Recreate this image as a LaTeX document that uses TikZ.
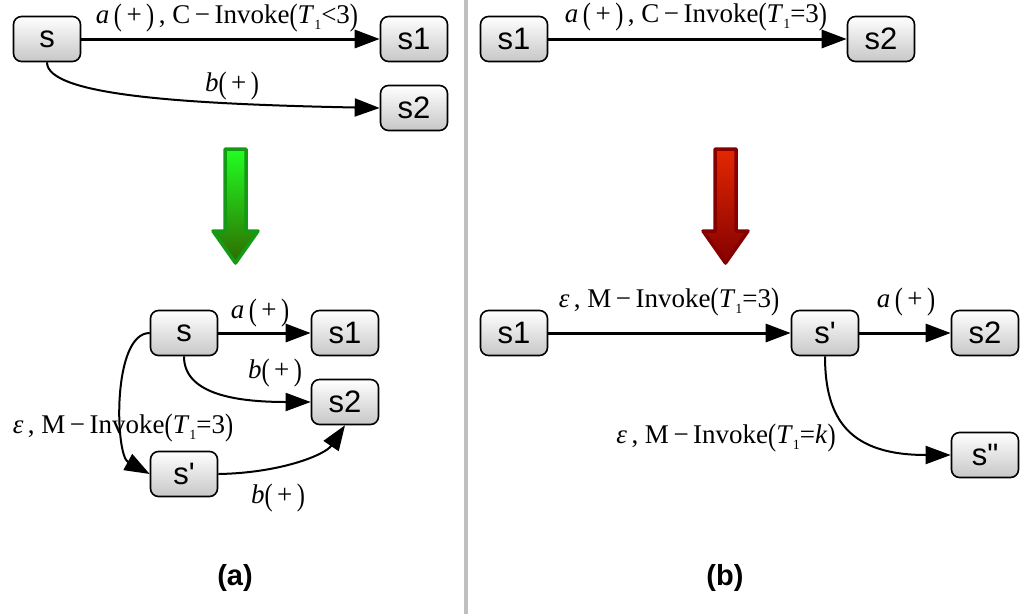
\documentclass[tikz,border=0pt]{standalone}
\usepackage{fontspec}
\usepackage{graphicx}
\setmainfont{Liberation Serif}
\setsansfont{Liberation Sans}[Ligatures=TeXOff]
\usetikzlibrary{arrows.meta}
\newcommand{\mysub}[1]{\raisebox{-0.45ex}{\fontsize{14}{14}\selectfont #1}}
\newcommand{\mylp}{\raisebox{-0.12ex}{\scalebox{0.9}[1.15]{(}}}
\newcommand{\myrp}{\raisebox{-0.12ex}{\scalebox{0.9}[1.15]{)}}}
\definecolor{gtop}{HTML}{22FF22}
\definecolor{gbot}{HTML}{2E6A00}
\definecolor{gline}{HTML}{149A14}
\definecolor{rtop}{HTML}{E42800}
\definecolor{rbot}{HTML}{840000}
\definecolor{rline}{HTML}{860000}
\tikzset{
  st/.style={draw=black, line width=1.6pt, rounded corners=8pt, top color=white, bottom color=black!22,
    minimum width=67pt, minimum height=45pt, inner sep=0pt, font=\sffamily\fontsize{31}{33}\selectfont},
  edge/.style={line width=3pt, -{Triangle[length=25pt,width=18pt]}},
  edgec/.style={line width=2pt, -{Triangle[length=25pt,width=18pt]}},
  lab/.style={inner sep=0pt, font=\fontsize{27}{29}\selectfont},
  captxt/.style={inner sep=0pt, font=\sffamily\bfseries\fontsize{29}{31}\selectfont},
  bigarrow/.style={line width=3.5pt, line join=round}
}
\begin{document}
\begin{tikzpicture}[x=1pt,y=-1pt]
\useasboundingbox (0,0) rectangle (1020,614);
\fill[white] (0,0) rectangle (1020,614);
\draw[line width=4pt, black!25] (465.5,0) -- (465.5,614);

% big arrows
\draw[bigarrow, draw=gline, top color=gtop, bottom color=gbot]
  (225,149) -- (246,149) -- (246,231) -- (258,231) -- (235.5,263) -- (213,231) -- (225,231) -- cycle;
\draw[bigarrow, draw=rline, top color=rtop, bottom color=rbot]
  (715,149) -- (736,149) -- (736,231) -- (748,231) -- (725.5,263) -- (703,231) -- (715,231) -- cycle;

% (a) top
\node[st] (as) at (47,39) {s};
\node[st] (as1) at (414,39) {s1};
\node[st] (as2) at (414,108) {s2};
\draw[edge] (as) -- (as1);
\draw[edgec] (as.south) .. controls (47,95) and (180,104) .. (as2.west);
\node[lab] (l1) at (227,18) {\textit{a}\,\mylp\,+\,\myrp\,, C\,−\,Invoke\mylp\textit{T}\mysub{1}<3\myrp};
\node[lab] (l2) at (232,86) {\textit{b}\mylp\,+\,\myrp};

% (a) bottom
\node[st] (cs) at (184,333) {s};
\node[st] (cs1) at (345,333) {s1};
\node[st] (cs2) at (345,402) {s2};
\node[st] (csp) at (184,474) {s'};
\draw[edge] (cs) -- (cs1);
\draw[edgec] (cs.south) .. controls (184,392) and (230,402) .. (cs2.west);
\draw[edgec] (cs.west) .. controls (112,333) and (115,455) .. (csp.west);
\draw[edgec] (csp.east) .. controls (280,473) and (325,455) .. (cs2.south);
\node[lab] (l3) at (260,313) {\textit{a}\,\mylp\,+\,\myrp};
\node[lab] (l4) at (275,373) {\textit{b}\mylp\,+\,\myrp};
\node[lab] (l5) at (123,428) {\textit{ε}\,, M\,−\,Invoke\mylp\textit{T}\mysub{1}=3\myrp};
\node[lab] (l6) at (278,498) {\textit{b}\mylp\,+\,\myrp};
\node[captxt] (capa) at (235,578) {(a)};

% (b) top
\node[st] (bs1) at (514,39) {s1};
\node[st] (bs2) at (881,39) {s2};
\draw[edge] (bs1) -- (bs2);
\node[lab] (l7) at (696,17) {\textit{a}\,\mylp\,+\,\myrp\,, C\,−\,Invoke\mylp\textit{T}\mysub{1}=3\myrp};

% (b) bottom
\node[st] (ds1) at (514,333) {s1};
\node[st] (dsp) at (825,333) {s'};
\node[st] (ds2) at (985,333) {s2};
\node[st] (dspp) at (985,455) {s"};
\draw[edge] (ds1) -- (dsp);
\draw[edge] (dsp) -- (ds2);
\draw[edgec] (dsp.south) .. controls (825,420) and (850,455) .. (dspp.west);
\node[lab] (l8) at (669,302) {\textit{ε}\,, M\,−\,Invoke\mylp\textit{T}\mysub{1}=3\myrp};
\node[lab] (l9) at (906,302) {\textit{a}\,\mylp\,+\,\myrp};
\node[lab] (l10) at (726,438) {\textit{ε}\,, M\,−\,Invoke\mylp\textit{T}\mysub{1}=\textit{k}\myrp};
\node[captxt] (capb) at (725,578) {(b)};
\end{tikzpicture}
\end{document}
